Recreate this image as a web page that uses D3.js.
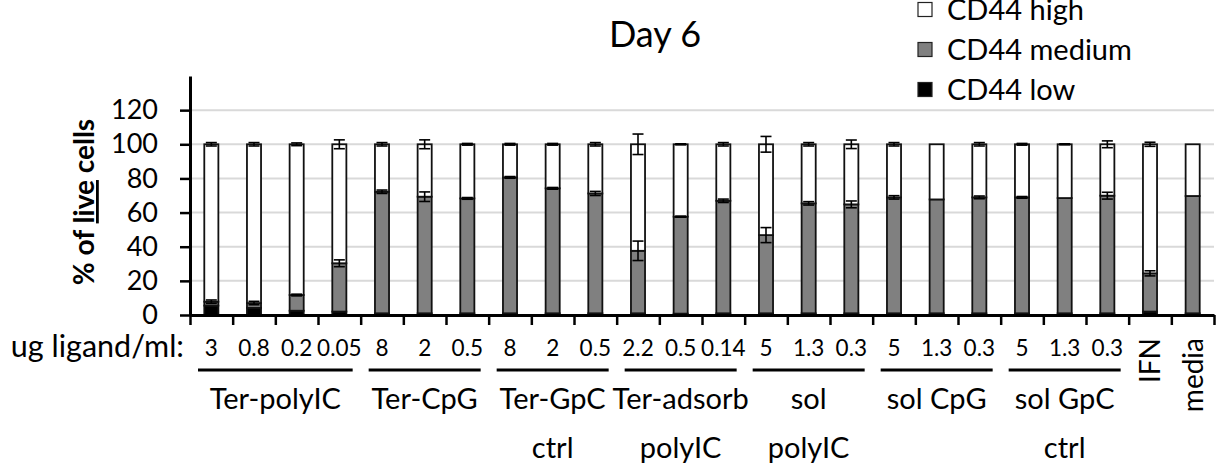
<!DOCTYPE html>
<meta charset="utf-8">
<script src="https://d3js.org/d3.v7.min.js"></script>
<style>
  body { margin: 0; background: #fff; }
  svg { font-family: Lato, "Open Sans", sans-serif; }
</style>
<div id="chart"></div>
<script>
// doses under each bar (x categories)
var doses = ["3", "0.8", "0.2", "0.05", "8", "2", "0.5", "8", "2", "0.5",
             "2.2", "0.5", "0.14", "5", "1.3", "0.3", "5", "1.3", "0.3",
             "5", "1.3", "0.3", "IFN", "media"];
// stacked % of live cells
var low    = [5.5, 4.2, 2.5, 2.0, 1.0, 1.0, 1.0, 1.0, 1.0, 1.0, 1.0, 0.8,
              1.0, 1.0, 1.0, 1.0, 1.0, 1.0, 1.0, 1.0, 1.0, 1.0, 2.0, 1.0];
var medium = [2.3, 2.8, 9.2, 28.3, 71.2, 68.3, 67.3, 79.6, 73.2, 70.2, 36.6, 56.8,
              65.9, 45.8, 64.4, 63.8, 67.9, 66.7, 67.9, 67.9, 67.5, 68.9, 22.4, 68.7];
var high   = [92.2, 93.0, 88.3, 69.7, 27.8, 30.7, 31.7, 19.4, 25.8, 28.8, 62.4, 42.4,
              33.1, 53.2, 34.6, 35.2, 31.1, 32.3, 31.1, 31.1, 31.5, 30.1, 75.6, 30.3];
// error bars (+/-) at top of medium and at top of high
var mediumErr = [1, 1, 0.5, 2, 1, 2.8, 0.5, 0.5, 0.5, 1.2, 5.7, 0.3,
                 1, 4.4, 1, 2, 1, 0, 0.8, 0.5, 0, 2, 1.5, 0];
var highErr   = [1, 1, 0.8, 2.6, 1, 2.6, 0.5, 0.5, 0.5, 1, 6, 0.3,
                 1, 4.6, 1, 2.5, 1, 0, 1, 0.5, 0.3, 2, 1.2, 0];
// treatment groups under the doses
var groupNames = [["Ter-polyIC"], ["Ter-CpG"], ["Ter-GpC", "ctrl"], ["Ter-adsorb", "polyIC"],
                  ["sol", "polyIC"], ["sol CpG"], ["sol GpC", "ctrl"]];
var groupSizes = [4, 3, 3, 3, 3, 3, 3];
var yTicks = [0, 20, 40, 60, 80, 100, 120];
var seriesKeys = ["low", "medium", "high"];
var legendLabels = ["CD44 high", "CD44 medium", "CD44 low"];
var legendKeys = ["high", "medium", "low"];
var colors = {low: "#000000", medium: "#808080", high: "#ffffff"};

var width = 1225, height = 466;
var svg = d3.select("#chart").append("svg")
  .attr("width", width).attr("height", height);

var table = doses.map(function(d, i) {
  return {i: i, dose: d, low: low[i], medium: medium[i], high: high[i]};
});

// scales
var x = d3.scaleBand().domain(d3.range(doses.length))
  .range([190, 1214]).paddingInner(0.67).paddingOuter(0.335);
var xb = d3.scaleLinear().domain([0, doses.length]).range([190, 1214]);
var y = d3.scaleLinear().domain([0, 140]).range([315, 76]);

// gridlines
svg.append("g").selectAll("line")
  .data(yTicks.filter(function(t) { return t > 0; }))
  .enter().append("line")
    .attr("x1", 190).attr("x2", 1214)
    .attr("y1", function(d) { return y(d); })
    .attr("y2", function(d) { return y(d); })
    .attr("stroke", "#d9d9d9").attr("stroke-width", 2);

// stacked bars
var stack = d3.stack().keys(seriesKeys)(table);
svg.append("g").selectAll("g")
  .data(stack)
  .enter().append("g")
    .attr("fill", function(s) { return colors[s.key]; })
  .selectAll("rect")
  .data(function(s) { return s; })
  .enter().append("rect")
    .attr("x", function(d) { return x(d.data.i); })
    .attr("width", x.bandwidth())
    .attr("y", function(d) { return y(d[1]); })
    .attr("height", function(d) { return y(d[0]) - y(d[1]); })
    .attr("stroke", "#111").attr("stroke-width", 1.8);

// error bars
function errorBars(tops, errs) {
  var g = svg.append("g").attr("stroke", "#000").attr("stroke-width", 1.6);
  var data = tops.map(function(t, i) { return {i: i, top: t, err: errs[i]}; })
    .filter(function(d) { return d.err > 0; });
  var cx = function(d) { return x(d.i) + x.bandwidth() / 2; };
  g.selectAll(".v").data(data).enter().append("line")
    .attr("x1", cx).attr("x2", cx)
    .attr("y1", function(d) { return y(d.top - d.err); })
    .attr("y2", function(d) { return y(d.top + d.err); });
  [-1, 1].forEach(function(s) {
    g.selectAll(".c" + s).data(data).enter().append("line")
      .attr("x1", function(d) { return cx(d) - 5.5; })
      .attr("x2", function(d) { return cx(d) + 5.5; })
      .attr("y1", function(d) { return y(d.top + s * d.err); })
      .attr("y2", function(d) { return y(d.top + s * d.err); });
  });
}
errorBars(table.map(function(d) { return d.low + d.medium; }), mediumErr);
errorBars(table.map(function(d) { return d.low + d.medium + d.high; }), highErr);

// y axis
var yAxis = svg.append("g")
  .attr("transform", "translate(190,0)")
  .call(d3.axisLeft(y).tickValues(yTicks).tickSize(10).tickSizeOuter(0).tickPadding(22));
yAxis.select(".domain").attr("stroke-width", 3);
yAxis.selectAll(".tick line").attr("stroke-width", 2.5);
yAxis.selectAll("text").attr("font-size", 27).attr("font-family", "Lato").attr("fill", "#000");

// x axis: ticks on category boundaries
var xAxis = svg.append("g")
  .attr("transform", "translate(0,315)")
  .call(d3.axisBottom(xb).tickValues(d3.range(doses.length + 1))
    .tickFormat("").tickSize(10).tickSizeOuter(0));
xAxis.select(".domain").attr("stroke-width", 3);
xAxis.selectAll(".tick line").attr("stroke-width", 2.5);

// y title
var yTitle = svg.append("text")
  .attr("transform", "translate(94,202) rotate(-90)")
  .attr("text-anchor", "middle")
  .attr("font-size", 28).attr("font-weight", "bold");
yTitle.append("tspan").text("% of ");
yTitle.append("tspan").text("live").attr("text-decoration", "underline");
yTitle.append("tspan").text(" cells");

// chart title
svg.append("text").attr("x", 655).attr("y", 47)
  .attr("text-anchor", "middle").attr("font-size", 36).text("Day 6");

// legend
var leg = svg.append("g").selectAll("g")
  .data(legendKeys).enter().append("g")
    .attr("transform", function(d, i) { return "translate(918," + (19.5 + i * 40) + ")"; });
leg.append("rect").attr("x", 0).attr("y", -17).attr("width", 14).attr("height", 14)
  .attr("fill", function(d) { return colors[d]; })
  .attr("stroke", "#222").attr("stroke-width", 1.2);
leg.append("text").attr("x", 29).attr("y", 0).attr("font-size", 29)
  .text(function(d, i) { return legendLabels[i]; });

// dose labels
svg.append("text").attr("x", 184).attr("y", 357)
  .attr("text-anchor", "end").attr("font-size", 30.5).text("ug ligand/ml:");
var nGrouped = d3.sum(groupSizes);
svg.append("g").selectAll("text")
  .data(table.slice(0, nGrouped)).enter().append("text")
    .attr("x", function(d) { return x(d.i) + x.bandwidth() / 2; })
    .attr("y", 356).attr("text-anchor", "middle").attr("font-size", 22.5)
    .text(function(d) { return d.dose; });
svg.append("g").selectAll("text")
  .data(table.slice(nGrouped)).enter().append("text")
    .attr("transform", function(d) {
      return "translate(" + (x(d.i) + x.bandwidth() / 2 + 10) + ",338) rotate(-90)";
    })
    .attr("text-anchor", "end").attr("font-size", 28)
    .text(function(d) { return d.dose; });

// group underlines + names
var starts = groupSizes.map(function(n, i) { return d3.sum(groupSizes.slice(0, i)); });
var groups = svg.append("g").selectAll("g")
  .data(groupNames).enter().append("g");
groups.append("line")
  .attr("x1", function(d, i) { return xb(starts[i]) + 8; })
  .attr("x2", function(d, i) { return xb(starts[i] + groupSizes[i]) - 8; })
  .attr("y1", 370).attr("y2", 370)
  .attr("stroke", "#000").attr("stroke-width", 3);
groups.append("text")
  .attr("text-anchor", "middle").attr("font-size", 29)
  .each(function(d, i) {
    var cx = xb(starts[i] + groupSizes[i] / 2);
    d3.select(this).selectAll("tspan").data(d).enter().append("tspan")
      .attr("x", cx).attr("y", function(t, j) { return 409 + j * 49; })
      .text(function(t) { return t; });
  });
</script>
